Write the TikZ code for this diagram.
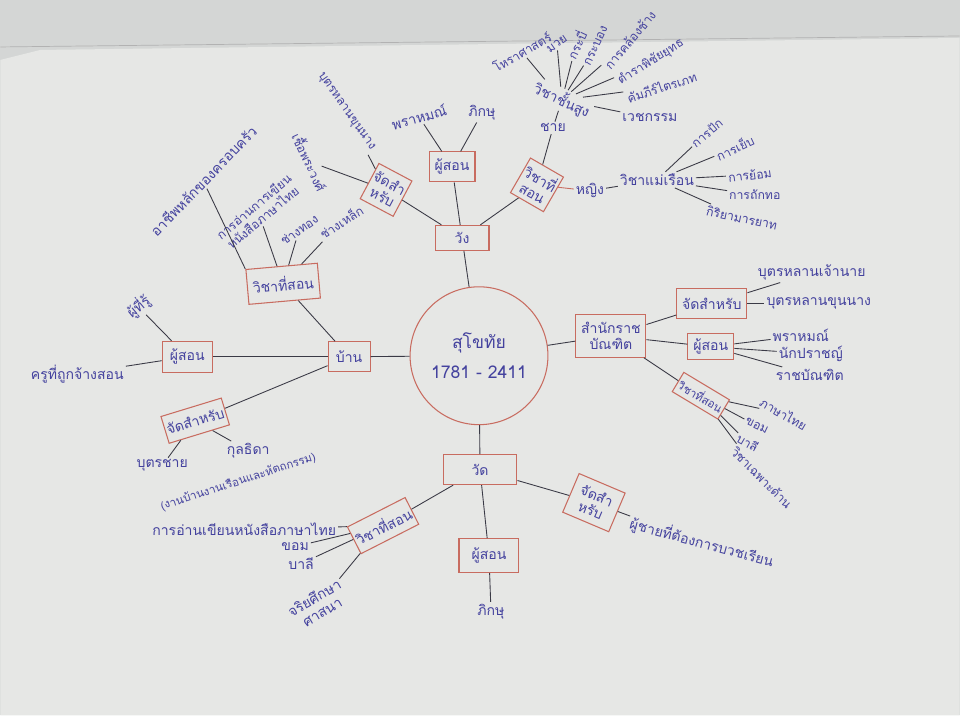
\documentclass[tikz,border=0pt]{standalone}
\usepackage{fontspec}
\newfontfamily\thaifont[Script=Thai]{Loma}
\definecolor{paper}{RGB}{230,231,229}
\definecolor{paperdk}{RGB}{212,214,213}
\definecolor{ink}{RGB}{68,66,158}
\definecolor{redbox}{RGB}{200,108,96}
\definecolor{pen}{RGB}{58,58,70}
\tikzset{
  lbl/.style={text=ink, font=\thaifont\fontsize{8}{9}\selectfont, inner sep=1pt, align=center},
  sml/.style={lbl, font=\thaifont\fontsize{7}{8}\selectfont},
  box/.style={lbl, draw=redbox, line width=.6pt, inner sep=3pt},
  link/.style={draw=pen, line width=.5pt},
}

\begin{document}
\begin{tikzpicture}[x=.02cm, y=-.02cm]
    \fill[paperdk](0,0) rectangle (960,716);
    \fill[paper](0,60)--(40,50)--(960,38)--(960,716)--(0,716)--cycle;
    \draw[gray!60](0,47)--(960,36);
    \useasboundingbox(0,0) rectangle (960,716);
    % centre
    \node[circle, draw=redbox, line width=.6pt, minimum size=2.76cm, lbl, font=\thaifont\fontsize{10}{17}\selectfont] (era) at (479,356) {สุโขทัย\\1781 - 2411};
    % palace
    \node[box, minimum width=1.08cm, minimum height=.5cm] (wang) at (462,238) {วัง};
    \node[box, minimum width=.92cm, minimum height=.6cm] (wangtch) at (452,167) {ผู้สอน};
    \node[lbl, rotate=15] (wangbr) at (419,117) {พราหมณ์};
    \node[lbl] (wangmk) at (482,113) {ภิกษุ};
    \node[box, rotate=-28, minimum width=.7cm, minimum height=.8cm, inner sep=1pt] (wangfor) at (386,190) {จัดสำ\\หรับ};
    \node[sml, rotate=-65] (wangroy) at (310,162) {เชื้อพระวงศ์};
    \node[sml, rotate=-55] (wangnob) at (346,112) {บุตรหลานขุนนาง};
    \node[box, rotate=-30, minimum width=.75cm, minimum height=.8cm, inner sep=1pt] (wangsub) at (537,185) {วิชาที่\\สอน};
    \node[lbl] (male) at (553,128) {ชาย};
    \node[lbl, rotate=-25] (high) at (562,100) {วิชาชั้นสูง};
    \node[sml, rotate=30] (h1) at (522,52) {โหราศาสตร์};
    \node[sml, rotate=35] (h2) at (557,44) {มวย};
    \node[sml, rotate=65] (h3) at (576,45) {กระบี่};
    \node[sml, rotate=65] (h4) at (596,46) {กระบอง};
    \node[sml, rotate=50] (h5) at (630,40) {การคล้องช้าง};
    \node[sml, rotate=32] (h6) at (651,62) {ตำราพิชัยยุทธ};
    \node[sml, rotate=18] (h7) at (662,87) {คัมภีร์ไตรเภท};
    \node[lbl] (h8) at (650,118) {เวชกรรม};
    \node[lbl] (female) at (590,191) {หญิง};
    \node[lbl] (home) at (657,180) {วิชาแม่เรือน};
    \node[sml, rotate=40] (f1) at (707,133) {การปัก};
    \node[sml, rotate=25] (f2) at (735,148) {การเย็บ};
    \node[sml, rotate=8] (f3) at (750,175) {การย้อม};
    \node[sml] (f4) at (755,195) {การถักทอ};
    \node[sml, rotate=-12] (f5) at (742,218) {กิริยามารยาท};
    \draw[link](wang)--(era);
    \draw[link](wang)--(wangtch);
    \draw[link](wangtch)--(wangbr);
    \draw[link](wangtch)--(wangmk);
    \draw[link](wang)--(wangfor);
    \draw[link](wangfor)--(wangroy);
    \draw[link](wangfor)--(wangnob);
    \draw[link](wang)--(wangsub);
    \draw[link](wangsub)--(male);
    \draw[link](male)--(high);
    \foreach \h in {h1,h2,h3,h4,h5,h6,h7,h8}
        \draw[link](high)--(\h);
    \draw[redbox, line width=.5pt](wangsub)--(female);
    \draw[link](female)--(home);
    \foreach \f in {f1,f2,f3,f4,f5}
        \draw[link](home)--(\f);
    % royal scholars
    \node[box, minimum width=1.36cm, minimum height=.86cm] (royal) at (611,336) {สำนักราช\\บัณฑิต};
    \node[box, minimum width=1.1cm, minimum height=.6cm] (rfor) at (712,304) {จัดสำหรับ};
    \node[lbl] (r1) at (812,273) {บุตรหลานเจ้านาย};
    \node[lbl] (r2) at (819,304) {บุตรหลานขุนนาง};
    \node[box, minimum width=.92cm, minimum height=.48cm] (rtch) at (711,347) {ผู้สอน};
    \node[lbl] (r3) at (801,336) {พราหมณ์};
    \node[lbl] (r4) at (811,354) {นักปราชญ์};
    \node[lbl] (r5) at (810,375) {ราชบัณฑิต};
    \node[box, rotate=-31, minimum width=.8cm, minimum height=.45cm, inner sep=1pt, font=\thaifont\fontsize{6.5}{7}\selectfont] (rsub) at (701,396) {วิชาที่สอน};
    \node[sml, rotate=-30] (r6) at (784,414) {ภาษาไทย};
    \node[sml, rotate=-25] (r7) at (757,426) {ขอม};
    \node[sml, rotate=-30] (r8) at (748,443) {บาลี};
    \node[sml, rotate=-45] (r9) at (762,478) {วิชาเฉพาะด้าน};
    \draw[link](era)--(royal);
    \draw[link](royal)--(rfor);
    \draw[link](rfor)--(r1);
    \draw[link](rfor)--(r2);
    \draw[link](royal)--(rtch);
    \foreach \r in {r3,r4,r5}
        \draw[link](rtch)--(\r);
    \draw[link](royal)--(rsub);
    \foreach \r in {r6,r7,r8,r9}
        \draw[link](rsub)--(\r);
    % temple
    \node[box, minimum width=1.48cm, minimum height=.6cm] (wat) at (480,470) {วัด};
    \node[box, minimum width=1.2cm, minimum height=.68cm] (wattch) at (489,556) {ผู้สอน};
    \node[lbl] (watmk) at (491,612) {ภิกษุ};
    \node[box, rotate=-23, minimum width=1cm, minimum height=.84cm, inner sep=1pt] (watfor) at (594,503) {จัดสำ\\หรับ};
    \node[lbl, rotate=-15] (monk) at (702,543) {ผู้ชายที่ต้องการบวชเรียน};
    \node[box, rotate=27, minimum width=.96cm, minimum height=.6cm, inner sep=1pt] (watsub) at (383,526) {วิชาที่สอน};
    \node[lbl] (w1) at (244,530) {การอ่านเขียนหนังสือภาษาไทย};
    \node[lbl] (w2) at (295,547) {ขอม};
    \node[lbl] (w3) at (301,564) {บาลี};
    \node[lbl, rotate=30] (w4) at (318,605) {จริยศึกษา\\ศาสนา};
    \draw[link](era)--(wat);
    \draw[link](wat)--(wattch);
    \draw[link](wattch)--(watmk);
    \draw[link](wat)--(watfor);
    \draw[link](watfor)--(monk);
    \draw[link](wat)--(watsub);
    \foreach \w in {w1,w2,w3,w4}
        \draw[link](watsub)--(\w);
    % home
    \node[box, minimum width=.84cm, minimum height=.6cm] (ban) at (349,357) {บ้าน};
    \node[box, minimum width=1cm, minimum height=.62cm] (bantch) at (187,357) {ผู้สอน};
    \node[lbl, rotate=40] (b1) at (138,307) {ผู้ที่รู้};
    \node[lbl] (b2) at (77,374) {ครูที่ถูกจ้างสอน};
    \node[box, rotate=17, minimum width=1.04cm, minimum height=.56cm, inner sep=1pt] (banfor) at (195,421) {จัดสำหรับ};
    \node[lbl] (b3) at (162,466) {บุตรชาย};
    \node[lbl] (b4) at (248,451) {กุลธิดา};
    \node[lbl, rotate=18, font=\thaifont\fontsize{6.5}{7}\selectfont] (b5) at (238,482) {(งานบ้านงานเรือนและหัตถกรรม)};
    \node[box, rotate=5, minimum width=1.26cm, minimum height=.7cm] (bansub) at (283,284) {วิชาที่สอน};
    \node[lbl, rotate=46] (b6) at (203,181) {อาชีพหลักของครอบครัว};
    \node[sml, rotate=40] (b7) at (258,212) {การอ่านการเขียน\\หนังสือภาษาไทย};
    \node[sml, rotate=35] (b8) at (299,230) {ช่างทอง};
    \node[sml, rotate=32] (b9) at (341,222) {ช่างเหล็ก};
    \draw[link](era)--(ban);
    \draw[link](ban)--(bantch);
    \draw[link](bantch)--(b1);
    \draw[link](bantch)--(b2);
    \draw[link](ban)--(banfor);
    \draw[link](banfor)--(b3);
    \draw[link](banfor)--(b4);
    \draw[link](ban)--(bansub);
    \draw[link](bansub.north west)--(b6);
    \foreach \b in {b7,b8,b9}
        \draw[link](bansub)--(\b);
\end{tikzpicture}
\end{document}
